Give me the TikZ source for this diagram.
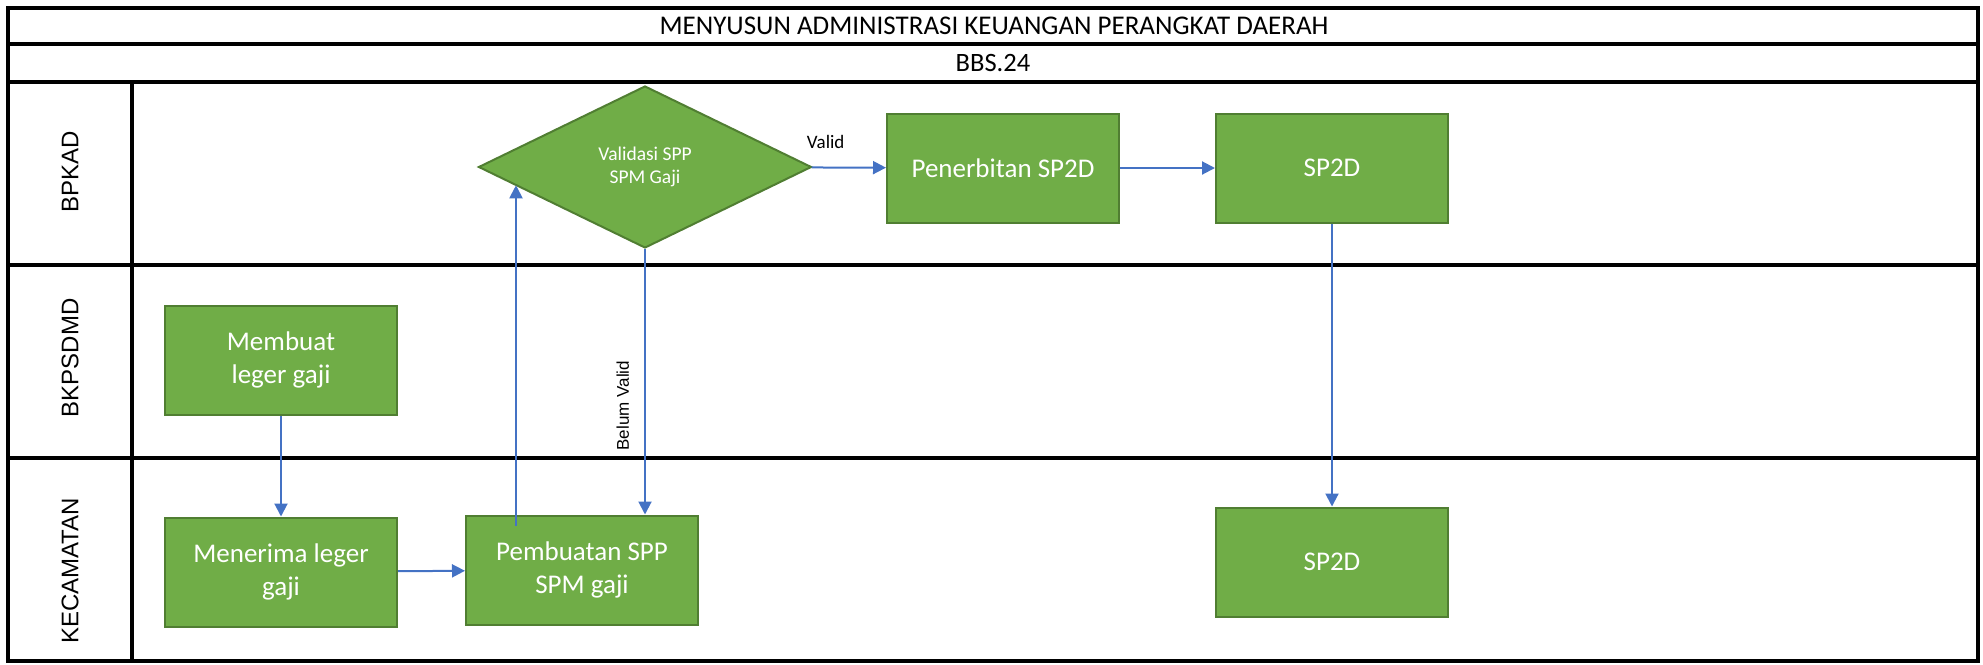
\documentclass[tikz,border=0pt]{standalone}
\usepackage{fontspec}
\setmainfont{Carlito}
\newfontfamily\lanefont{Liberation Sans}
\usetikzlibrary{shapes.geometric,arrows.meta}

\definecolor{boxgreen}{HTML}{70AD47}
\definecolor{boxedge}{HTML}{507E32}
\definecolor{flowblue}{HTML}{4472C4}

\begin{document}
\begin{tikzpicture}[x=1pt,y=-1pt,
    every node/.append style={align=center},
    lane/.style={line width=4.5pt},
    lanelabel/.style={rotate=90,font=\lanefont\fontsize{24}{28}\selectfont},
    headtext/.style={font=\fontsize{26.5}{31}\selectfont},
    task/.style={rectangle,fill=boxgreen,draw=boxedge,line width=2pt,text=white,
      minimum width=232pt,minimum height=109pt,inner sep=0pt,
      font=\fontsize{27}{32.5}\selectfont},
    decision/.style={diamond,fill=boxgreen,draw=boxedge,line width=2pt,text=white,
      minimum width=333pt,minimum height=162pt,inner sep=0pt,
      font=\fontsize{19.5}{23.5}\selectfont},
    flow/.style={draw=flowblue,line width=2pt,-{Triangle[length=13pt,width=13pt]}},
    flowlabel/.style={font=\fontsize{19}{23}\selectfont},
    belum/.style={font=\lanefont\fontsize{17}{20}\selectfont}]
  \useasboundingbox (0,0) rectangle (1983,664);
  % swimlane frame
  \draw[lane] (8,8) rectangle (1978,661);
  \draw[lane] (8,44) -- (1978,44);
  \draw[lane] (8,82) -- (1978,82);
  \draw[lane] (8,265) -- (1978,265);
  \draw[lane] (8,458) -- (1978,458);
  \draw[lane] (132,82) -- (132,661);
  \node[headtext,font=\fontsize{27}{31}\selectfont] (judul) at (994,26) {MENYUSUN ADMINISTRASI KEUANGAN PERANGKAT DAERAH};
  \node[headtext] (kode)  at (993,63) {BBS.24};
  \node[lanelabel] (bpkad)   at (70,172) {BPKAD};
  \node[lanelabel] (bkpsdmd) at (70,358) {BKPSDMD};
  \node[lanelabel] (kec)     at (70,571) {KECAMATAN};
  % steps
  \node[decision] (valid) at (645,167)  {Validasi SPP\\SPM Gaji};
  \node[task] (terbit)    at (1003,168) {Penerbitan SP2D};
  \node[task] (sp2dA)     at (1332,168) {SP2D};
  \node[task] (leger)     at (281,360)  {Membuat\\leger gaji};
  \node[task] (terima)    at (281,572)  {Menerima leger\\gaji};
  \node[task] (spp)       at (582,570)  {Pembuatan SPP\\SPM gaji};
  \node[task] (sp2dB)     at (1332,562) {SP2D};
  % connectors
  \draw[flow] (leger) -- (terima);
  \draw[flow] (terima) -- (spp);
  \coordinate (upfoot) at ([xshift=-66pt,yshift=-11pt]spp.north);
  \draw[flow] (upfoot) -- (upfoot |- valid.188);
  \draw[flow] (valid.south) -- node[pos=0.59,anchor=south,rotate=90,inner ysep=15pt,belum] {Belum Valid} (valid.south |- spp.north);
  \draw[flow] (valid) -- node[pos=0.19,above=15pt,flowlabel] {Valid} (terbit);
  \draw[flow] (terbit) -- (sp2dA);
  \draw[flow] (sp2dA) -- (sp2dB);
\end{tikzpicture}
\end{document}
